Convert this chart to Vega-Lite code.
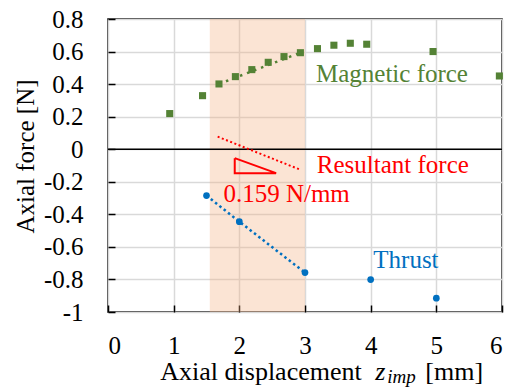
{
  "$schema": "https://vega.github.io/schema/vega-lite/v6.json",
  "autosize": {"type": "none"},
  "padding": {"left": 108, "top": 19, "right": 7, "bottom": 77},
  "width": 394,
  "height": 293,
  "background": "white",
  "config": {
    "font": "Liberation Serif",
    "view": {"stroke": "#000000", "strokeWidth": 1.5},
    "axis": {
      "grid": true,
      "gridColor": "#d9d9d9",
      "gridWidth": 1.5,
      "domain": false,
      "ticks": true,
      "tickColor": "#000000",
      "tickWidth": 1.5,
      "tickSize": -7,
      "labelFont": "Liberation Serif",
      "labelFontSize": 25,
      "labelColor": "#000000",
      "titleFont": "Liberation Serif",
      "titleFontSize": 25,
      "titleFontWeight": "normal",
      "titleColor": "#000000"
    },
    "text": {"font": "Liberation Serif"}
  },
  "datasets": {
    "points": [
      {"series": "Magnetic force", "x": 0.94, "y": 0.219},
      {"series": "Magnetic force", "x": 1.44, "y": 0.329},
      {"series": "Magnetic force", "x": 1.69, "y": 0.401},
      {"series": "Magnetic force", "x": 1.94, "y": 0.446},
      {"series": "Magnetic force", "x": 2.19, "y": 0.489},
      {"series": "Magnetic force", "x": 2.44, "y": 0.534},
      {"series": "Magnetic force", "x": 2.68, "y": 0.569},
      {"series": "Magnetic force", "x": 2.93, "y": 0.593},
      {"series": "Magnetic force", "x": 3.19, "y": 0.618},
      {"series": "Magnetic force", "x": 3.44, "y": 0.639},
      {"series": "Magnetic force", "x": 3.69, "y": 0.651},
      {"series": "Magnetic force", "x": 3.94, "y": 0.645},
      {"series": "Magnetic force", "x": 4.95, "y": 0.6},
      {"series": "Magnetic force", "x": 5.96, "y": 0.45},
      {"series": "Thrust", "x": 1.5, "y": -0.285},
      {"series": "Thrust", "x": 2.0, "y": -0.445},
      {"series": "Thrust", "x": 3.0, "y": -0.758},
      {"series": "Thrust", "x": 4.0, "y": -0.801},
      {"series": "Thrust", "x": 5.0, "y": -0.915}
    ],
    "lines": [
      {"line": "magnetic", "x": 1.69, "y": 0.401},
      {"line": "magnetic", "x": 2.93, "y": 0.593},
      {"line": "resultant", "x": 1.67, "y": 0.077},
      {"line": "resultant", "x": 2.91, "y": -0.123},
      {"line": "thrust", "x": 1.5, "y": -0.285},
      {"line": "thrust", "x": 2.0, "y": -0.445},
      {"line": "thrust", "x": 3.0, "y": -0.758}
    ],
    "triangle": [
      {"order": 1, "x": 1.93, "y": -0.055},
      {"order": 2, "x": 1.93, "y": -0.147},
      {"order": 3, "x": 2.56, "y": -0.147},
      {"order": 4, "x": 1.93, "y": -0.055}
    ],
    "labels": [
      {"kind": "magnetic", "text": "Magnetic force", "x": 3.167, "y": 0.415},
      {"kind": "resultant", "text": "Resultant force", "x": 3.18, "y": -0.148},
      {"kind": "resultant", "text": "0.159 N/mm", "x": 1.757, "y": -0.322},
      {"kind": "thrust", "text": "Thrust", "x": 4.04, "y": -0.731}
    ],
    "xtitle": [
      {"part": "main", "text": "Axial displacement", "x": 0.796, "y": -1.417},
      {"part": "var", "text": "z", "x": 4.07, "y": -1.417},
      {"part": "sub", "text": "imp", "x": 4.253, "y": -1.436},
      {"part": "main", "text": "[mm]", "x": 4.832, "y": -1.417}
    ],
    "region": [{"x": 1.55, "x2": 3.0, "y": -1, "y2": 0.8}]
  },
  "encoding": {
    "x": {"field": "x", "type": "quantitative", "scale": {"domain": [0, 6], "nice": false},
      "axis": {"title": null, "values": [0, 1, 2, 3, 4, 5, 6], "labelPadding": 28,
        "labelFont": "Liberation Serif", "labelFontSize": 25,
        "encode": {"labels": {"update": {"font": {"value": "Liberation Serif"}, "fontSize": {"value": 25}}}}}},
    "y": {"field": "y", "type": "quantitative", "scale": {"domain": [-1, 0.8], "nice": false},
      "axis": {"title": "Axial force [N]", "values": [-1, -0.8, -0.6, -0.4, -0.2, 0, 0.2, 0.4, 0.6, 0.8],
        "labelPadding": 32, "labelFont": "Liberation Serif", "labelFontSize": 25,
        "titleFont": "Liberation Serif", "titleFontSize": 25, "titleFontWeight": "normal",
        "labelExpr": "datum.value < 0 ? '-' + format(-datum.value, '~g') : format(datum.value, '~g')",
        "titleX": -83, "titleY": 137, "titleAngle": -90, "titleAlign": "center", "titleBaseline": "middle",
        "encode": {
          "labels": {"update": {"font": {"value": "Liberation Serif"}, "fontSize": {"value": 25}}},
          "title": {"update": {"font": {"value": "Liberation Serif"}, "fontSize": {"value": 25}}}
        }}}
  },
  "layer": [
    {
      "data": {"name": "region"},
      "mark": {"type": "rect", "color": "#f4b183", "opacity": 0.35},
      "encoding": {"x2": {"field": "x2"}, "y2": {"field": "y2"}}
    },
    {
      "data": {"name": "region"},
      "mark": {"type": "rule", "color": "#000000", "strokeWidth": 1.5},
      "encoding": {"x": {"datum": 0, "type": "quantitative"}, "x2": {"datum": 6}, "y": {"datum": 0, "type": "quantitative"}}
    },
    {
      "data": {"name": "lines"},
      "transform": [{"filter": "datum.line === 'magnetic'"}],
      "mark": {"type": "line", "color": "#548235", "strokeWidth": 2.5, "strokeDash": [2.5, 5]},
      "encoding": {}
    },
    {
      "data": {"name": "lines"},
      "transform": [{"filter": "datum.line === 'resultant'"}],
      "mark": {"type": "line", "color": "#ff0000", "strokeWidth": 2, "strokeDash": [2, 2.5]},
      "encoding": {}
    },
    {
      "data": {"name": "lines"},
      "transform": [{"filter": "datum.line === 'thrust'"}],
      "mark": {"type": "line", "color": "#0070c0", "strokeWidth": 2.5, "strokeDash": [2.5, 3]},
      "encoding": {}
    },
    {
      "data": {"name": "triangle"},
      "mark": {"type": "line", "color": "#ff0000", "strokeWidth": 2},
      "encoding": {"order": {"field": "order", "type": "quantitative"}}
    },
    {
      "data": {"name": "points"},
      "transform": [{"filter": "datum.series === 'Magnetic force'"}],
      "mark": {"type": "point", "shape": "square", "filled": true, "color": "#548235", "size": 50, "opacity": 1}
    },
    {
      "data": {"name": "points"},
      "transform": [{"filter": "datum.series === 'Thrust'"}],
      "mark": {"type": "circle", "color": "#0070c0", "size": 45, "opacity": 1}
    },
    {
      "data": {"name": "labels"},
      "transform": [{"filter": "datum.kind === 'magnetic'"}],
      "mark": {"type": "text", "color": "#548235", "fontSize": 25, "align": "left", "baseline": "alphabetic"},
      "encoding": {"text": {"field": "text"}}
    },
    {
      "data": {"name": "labels"},
      "transform": [{"filter": "datum.kind === 'resultant'"}],
      "mark": {"type": "text", "color": "#ff0000", "fontSize": 25, "align": "left", "baseline": "alphabetic"},
      "encoding": {"text": {"field": "text"}}
    },
    {
      "data": {"name": "labels"},
      "transform": [{"filter": "datum.kind === 'thrust'"}],
      "mark": {"type": "text", "color": "#0070c0", "fontSize": 25, "align": "left", "baseline": "alphabetic"},
      "encoding": {"text": {"field": "text"}}
    },
    {
      "data": {"name": "xtitle"},
      "transform": [{"filter": "datum.part === 'main'"}],
      "mark": {"type": "text", "color": "#000000", "fontSize": 26, "align": "left", "baseline": "alphabetic"},
      "encoding": {"text": {"field": "text"}}
    },
    {
      "data": {"name": "xtitle"},
      "transform": [{"filter": "datum.part === 'var'"}],
      "mark": {"type": "text", "color": "#000000", "fontSize": 26, "fontStyle": "italic", "align": "left", "baseline": "alphabetic"},
      "encoding": {"text": {"field": "text"}}
    },
    {
      "data": {"name": "xtitle"},
      "transform": [{"filter": "datum.part === 'sub'"}],
      "mark": {"type": "text", "color": "#000000", "fontSize": 19, "fontStyle": "italic", "align": "left", "baseline": "alphabetic"},
      "encoding": {"text": {"field": "text"}}
    }
  ]
}
